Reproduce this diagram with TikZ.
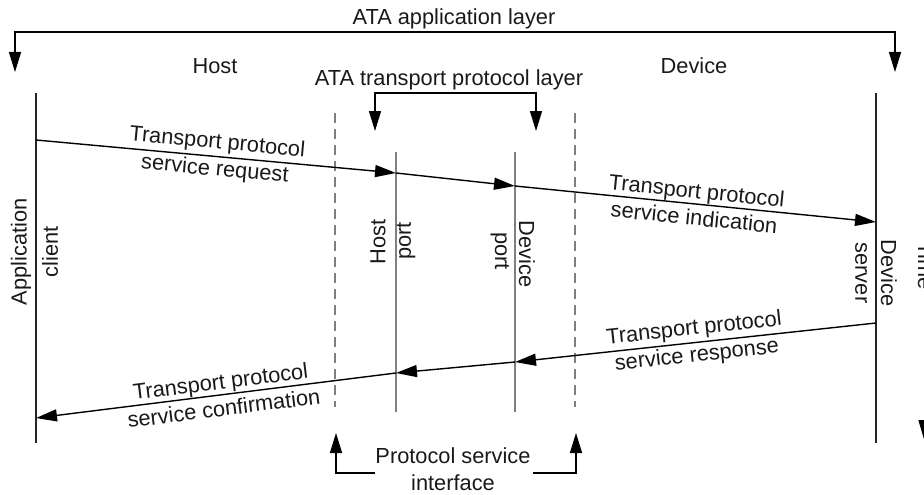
\documentclass[tikz,border=0pt]{standalone}
\usepackage{fontspec}
\setmainfont{Liberation Sans}
\usetikzlibrary{arrows.meta}
\begin{document}
\begin{tikzpicture}[x=1pt,y=-1pt,
  lbl/.style={font=\fontsize{21.8}{27}\selectfont, inner sep=0pt, align=center, text=black!90},
  life/.style={line width=1.4pt, black!85},
  port/.style={line width=2.6pt, black!50},
  iface/.style={line width=2pt, black!50, dash pattern=on 10pt off 6pt},
  msg/.style={line width=1.4pt, -{Triangle[length=21pt,width=12pt]}},
  bothtips/.style={line width=1.4pt, {Triangle[length=20pt,width=12pt]}-{Triangle[length=20pt,width=12pt]}},
  uptip/.style={line width=1.4pt, {Triangle[length=20pt,width=12pt]}-},
]
\useasboundingbox (0,0) rectangle (924,495);
\clip (0,0) rectangle (924,495);

% layer titles
\node[lbl, anchor=base] (applayer) at (454,25) {ATA application layer};
\node[lbl, anchor=base] (hostside) at (215,74) {Host};
\node[lbl, anchor=base] (devside) at (694,74) {Device};
\node[lbl, anchor=base] (translayer) at (449,85) {ATA transport protocol layer};

% application layer bracket
\coordinate (appL) at (15,72);
\coordinate (appTop) at (455,32);
\coordinate (appR) at (895,72);
\draw[bothtips] (appL) |- (appTop) -| (appR);

% transport layer bracket
\coordinate (trL) at (375,131);
\coordinate (trTop) at (455,93);
\coordinate (trR) at (536,131);
\draw[bothtips] (trL) |- (trTop) -| (trR);

% lifelines
\coordinate (acT) at (36,93);   \coordinate (acB) at (36,443);
\coordinate (dsT) at (876,93);  \coordinate (dsB) at (876,443);
\coordinate (hpT) at (396,152); \coordinate (hpB) at (396,412);
\coordinate (dpT) at (515,152); \coordinate (dpB) at (515,412);
\coordinate (ifLT) at (335,113); \coordinate (ifLB) at (335,407);
\coordinate (ifRT) at (575,113); \coordinate (ifRB) at (575,407);
\draw[life] (acT) -- (acB);
\draw[life] (dsT) -- (dsB);
\draw[port] (hpT) -- (hpB);
\draw[port] (dpT) -- (dpB);
\draw[iface] (ifLT) -- (ifLB);
\draw[iface] (ifRT) -- (ifRB);

% lifeline names
\node[lbl, rotate=90] (appname) at (21,252) {Application};
\node[lbl, rotate=90] (clientname) at (50,252) {client};
\node[lbl, rotate=90] (hostname) at (378,242) {Host};
\node[lbl, rotate=90] (hportname) at (406,241) {port};
\node[lbl, rotate=-90] (dportname) at (500,251) {port};
\node[lbl, rotate=-90] (devname) at (527,254) {Device};
\node[lbl, rotate=-90] (servername) at (861,273) {server};
\node[lbl, rotate=-90] (devsname) at (889,273) {Device};

% request / indication
\coordinate (reqA) at (36,140);
\coordinate (reqB) at (396,173);
\coordinate (reqC) at (515,186);
\coordinate (reqD) at (876,222);
\draw[msg] (reqA) -- node[lbl, sloped] (reqlbl) {Transport protocol\\service request} (reqB);
\draw[msg] (reqB) -- (reqC);
\draw[msg] (reqC) -- node[lbl, sloped] (indlbl) {Transport protocol\\service indication} (reqD);

% response / confirmation
\coordinate (rspA) at (876,323);
\coordinate (rspB) at (515,362);
\coordinate (rspC) at (396,373);
\coordinate (rspD) at (36,418);
\draw[msg] (rspA) -- node[lbl, sloped, pos=0.5] (rsplbl) {Transport protocol\\service response} (rspB);
\draw[msg] (rspB) -- (rspC);
\draw[msg] (rspC) -- node[lbl, sloped, pos=0.483] (cnflbl) {Transport protocol\\service confirmation} (rspD);

% protocol service interface
\node[lbl] (psi) at (453,469) {Protocol service\\interface};
\coordinate (psiL) at (336,433);
\coordinate (psiLB) at (375,473);
\coordinate (psiR) at (576,433);
\coordinate (psiRB) at (533,473);
\draw[uptip] (psiL) |- (psiLB);
\draw[uptip] (psiR) |- (psiRB);

% time axis
\node[lbl, rotate=-90] (timelbl) at (926,266) {Time};
\coordinate (timeT) at (924.5,300);
\coordinate (timeB) at (924.5,441);
\draw[msg] (timeT) -- (timeB);
\end{tikzpicture}
\end{document}
